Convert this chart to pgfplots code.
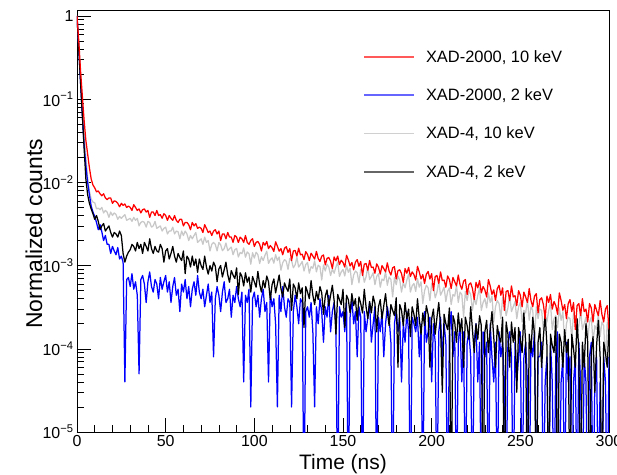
\documentclass[border=0pt]{standalone}
\usepackage{fontspec}
\setmainfont{Liberation Sans}
\usepackage{pgfplots}
\pgfplotsset{compat=1.18}
\definecolor{lgray}{RGB}{200,200,200}
\begin{document}
\begin{tikzpicture}
\begin{axis}[
  scale only axis, width=532bp, height=422bp,
  xmin=0, xmax=300, ymode=log, ymin=1e-5, ymax=1.18,
  axis line style={line width=0.8pt},
  tick align=inside, xtick pos=bottom, ytick pos=left,
  major tick length=14bp, minor tick length=7bp,
  every tick/.style={black, line width=0.6pt},
  xtick={0,50,100,150,200,250,300},
  xticklabels={0,50,100,150,200,250,300},
  minor x tick num=4,
  ytick={1e-5,1e-4,1e-3,1e-2,1e-1,1},
  yticklabels={10\textsuperscript{−5},10\textsuperscript{−4},10\textsuperscript{−3},10\textsuperscript{−2},10\textsuperscript{−1},1},
  ticklabel style={font=\fontsize{16}{19}\selectfont},
  xlabel={Time (ns)}, ylabel={Normalized counts},
  xlabel style={font=\fontsize{21}{25}\selectfont, at={(axis description cs:0.5,-0.052)}, anchor=north, inner sep=0pt},
  ylabel style={font=\fontsize{23}{27}\selectfont, at={(axis description cs:-0.081,0.47)}, anchor=center, inner sep=0pt},
  legend style={at={(axis description cs:0.538,0.91)}, anchor=north west, draw=none, fill=none, font=\fontsize{16.5}{19}\selectfont, row sep=21bp, inner sep=0pt, /tikz/every odd column/.append style={column sep=9bp}},
  legend cell align=left,
  legend image code/.code={\draw[#1] (0bp,0bp) -- (50bp,0bp);},
  every axis plot/.append style={line width=1.25bp, line join=round},
]
\coordinate (ll) at (rel axis cs:0,0);
\coordinate (ur) at (rel axis cs:1,1);
\addlegendimage{color=red!65, line width=1.6bp}
\addlegendentry{XAD-2000, 10 keV}
\addlegendimage{color=blue!60, line width=1.6bp}
\addlegendentry{XAD-2000, 2 keV}
\addlegendimage{color=lgray!85, line width=1.6bp}
\addlegendentry{XAD-4, 10 keV}
\addlegendimage{color=black!60, line width=1.6bp}
\addlegendentry{XAD-4, 2 keV}

% XAD-4, 10 keV
\addplot[color=lgray, forget plot] coordinates {
(0,1) (1,0.45) (2,0.19) (3,0.09) (4,0.04) (5,0.02) (6,0.0115) (7,0.0079) (8,0.0063) (9,0.0058)
(10,5.7e-3) (11,4.8e-3) (12,4.9e-3) (13,4.7e-3) (14,5.0e-3) (15,4.3e-3) (16,4.6e-3) (17,4.4e-3) (18,3.8e-3) (19,4.4e-3)
(20,4.0e-3) (21,4.3e-3) (22,4.1e-3) (23,3.6e-3) (24,3.9e-3) (25,3.7e-3) (26,3.9e-3) (27,4.1e-3) (28,3.5e-3) (29,3.6e-3)
(30,3.7e-3) (31,3.4e-3) (32,3.8e-3) (33,3.5e-3) (34,3.7e-3) (35,3.0e-3) (36,3.3e-3) (37,3.4e-3) (38,3.3e-3) (39,2.9e-3)
(40,3.4e-3) (41,3.3e-3) (42,2.9e-3) (43,3.0e-3) (44,3.4e-3) (45,2.8e-3) (46,2.9e-3) (47,3.0e-3) (48,2.6e-3) (49,2.8e-3)
(50,2.9e-3) (51,2.4e-3) (52,2.6e-3) (53,2.6e-3) (54,2.9e-3) (55,2.4e-3) (56,2.6e-3) (57,2.55e-3) (58,2.1e-3) (59,2.6e-3)
(60,2.3e-3) (61,2.6e-3) (62,2.4e-3) (63,2.0e-3) (64,2.3e-3) (65,2.1e-3) (66,2.3e-3) (67,2.5e-3) (68,1.9e-3) (69,2.0e-3)
(70,2.1e-3) (71,1.8e-3) (72,2.2e-3) (73,1.9e-3) (74,2.0e-3) (75,1.5e-3) (76,1.8e-3) (77,1.9e-3) (78,1.8e-3) (79,1.5e-3)
(80,1.9e-3) (81,1.78e-3) (82,1.51e-3) (83,1.6e-3) (84,1.87e-3) (85,1.51e-3) (86,1.59e-3) (87,1.67e-3) (88,1.35e-3) (89,1.55e-3)
(90,1.61e-3) (91,1.27e-3) (92,1.44e-3) (93,1.39e-3) (94,1.63e-3) (95,1.26e-3) (96,1.46e-3) (97,1.39e-3) (98,1.04e-3) (99,1.43e-3)
(100,1.23e-3) (101,1.45e-3) (102,1.35e-3) (103,1.06e-3) (104,1.28e-3) (105,1.15e-3) (106,1.33e-3) (107,1.49e-3) (108,1.06e-3) (109,1.18e-3)
(110,1.24e-3) (111,1.07e-3) (112,1.35e-3) (113,1.15e-3) (114,1.27e-3) (115,8.8e-4) (116,1.08e-3) (117,1.18e-3) (118,1.13e-3) (119,9.0e-4)
(120,1.22e-3) (121,1.15e-3) (122,9.4e-4) (123,1.02e-3) (124,1.26e-3) (125,9.6e-4) (126,1.03e-3) (127,1.12e-3) (128,8.6e-4) (129,1.03e-3)
(130,1.09e-3) (131,8.1e-4) (132,9.7e-4) (133,9.3e-4) (134,1.14e-3) (135,8.4e-4) (136,1.01e-3) (137,9.7e-4) (138,6.7e-4) (139,1.02e-3)
(140,8.6e-4) (141,1.04e-3) (142,9.6e-4) (143,7.6e-4) (144,9.1e-4) (145,8.1e-4) (146,9.6e-4) (147,1.1e-3) (148,7.4e-4) (149,8.4e-4)
(150,9.0e-4) (151,7.5e-4) (152,1.0e-3) (153,8.3e-4) (154,9.3e-4) (155,5.9e-4) (156,7.7e-4) (157,8.6e-4) (158,8.2e-4) (159,6.2e-4)
(160,9.0e-4) (161,8.5e-4) (162,6.3e-4) (163,7.3e-4) (164,9.7e-4) (165,6.8e-4) (166,7.4e-4) (167,8.2e-4) (168,5.9e-4) (169,7.4e-4)
(170,8.0e-4) (171,5.5e-4) (172,6.9e-4) (173,6.6e-4) (174,8.4e-4) (175,5.8e-4) (176,7.3e-4) (177,6.8e-4) (178,4.2e-4) (179,7.2e-4)
(180,5.9e-4) (181,7.5e-4) (182,6.7e-4) (183,4.8e-4) (184,6.3e-4) (185,5.4e-4) (186,6.7e-4) (187,7.9e-4) (188,4.8e-4) (189,5.7e-4)
(190,6.1e-4) (191,4.9e-4) (192,7.0e-4) (193,5.5e-4) (194,6.4e-4) (195,3.5e-4) (196,5.0e-4) (197,5.8e-4) (198,5.4e-4) (199,3.8e-4)
(200,6.1e-4) (201,5.7e-4) (202,4.1e-4) (203,4.8e-4) (204,6.5e-4) (205,4.4e-4) (206,4.9e-4) (207,5.5e-4) (208,3.7e-4) (209,4.9e-4)
(210,5.4e-4) (211,3.4e-4) (212,4.5e-4) (213,4.3e-4) (214,5.8e-4) (215,3.6e-4) (216,4.8e-4) (217,4.5e-4) (218,2.4e-4) (219,4.9e-4)
(220,3.8e-4) (221,5.0e-4) (222,4.5e-4) (223,2.9e-4) (224,4.1e-4) (225,3.4e-4) (226,4.4e-4) (227,5.4e-4) (228,2.9e-4) (229,3.6e-4)
(230,4.0e-4) (231,3.1e-4) (232,4.7e-4) (233,3.6e-4) (234,4.3e-4) (235,2.1e-4) (236,3.2e-4) (237,3.8e-4) (238,3.5e-4) (239,2.3e-4)
(240,4.1e-4) (241,3.7e-4) (242,2.5e-4) (243,3.1e-4) (244,4.4e-4) (245,2.8e-4) (246,3.2e-4) (247,3.7e-4) (248,2.3e-4) (249,3.2e-4)
(250,3.6e-4) (251,2.1e-4) (252,2.9e-4) (253,2.7e-4) (254,3.9e-4) (255,2.2e-4) (256,3.2e-4) (257,2.9e-4) (258,1.3e-4) (259,3.2e-4)
(260,2.3e-4) (261,3.0e-4) (262,2.9e-4) (263,1.7e-4) (264,2.6e-4) (265,2.1e-4) (266,2.9e-4) (267,3.6e-4) (268,1.7e-4) (269,2.3e-4)
(270,2.5e-4) (271,1.8e-4) (272,3.1e-4) (273,2.2e-4) (274,2.8e-4) (275,1.1e-4) (276,2.0e-4) (277,2.4e-4) (278,2.3e-4) (279,1.3e-4)
(280,2.7e-4) (281,2.4e-4) (282,1.5e-4) (283,1.9e-4) (284,2.9e-4) (285,1.7e-4) (286,2.0e-4) (287,2.4e-4) (288,1.3e-4) (289,2.1e-4)
(290,2.4e-4) (291,1.2e-4) (292,1.9e-4) (293,1.7e-4) (294,2.6e-4) (295,1.4e-4) (296,2.1e-4) (297,1.9e-4) (298,7e-5) (299,2.1e-4) (300,1.5e-4)
};

% XAD-2000, 2 keV
\addplot[color=blue, forget plot] coordinates {
(0,1) (1,0.4) (2,0.16) (3,0.065) (4,0.028) (5,0.016) (6,0.010) (7,0.0071) (8,0.0052) (9,0.0044)
(10,3.9e-3) (11,3.3e-3) (12,2.7e-3) (13,3.1e-3) (14,2.55e-3) (15,2.0e-3) (16,2.3e-3) (17,1.8e-3) (18,1.8e-3) (19,1.4e-3)
(20,1.7e-3) (21,1.5e-3) (22,1.35e-3) (23,1.65e-3) (24,1.2e-3) (25,1.3e-3) (26,1.1e-3) (27,4e-5) (28,6.8e-4) (29,7.2e-4)
(30,5.6e-4) (31,8.0e-4) (32,5.2e-4) (33,6.4e-4) (34,4.4e-4) (35,5e-5) (36,6.8e-4) (37,7.6e-4) (38,6.0e-4) (39,3.6e-4)
(40,6.4e-4) (41,8.4e-4) (42,5.6e-4) (43,4.8e-4) (44,6.8e-4) (45,6.0e-4) (46,4.0e-4) (47,7.2e-4) (48,5.2e-4) (49,6.4e-4)
(50,7.6e-4) (51,4.8e-4) (52,6.4e-4) (53,3.6e-4) (54,5.6e-4) (55,7.2e-4) (56,4.4e-4) (57,5.2e-4) (58,2.8e-4) (59,6.0e-4)
(60,4.8e-4) (61,6.8e-4) (62,4.0e-4) (63,5.6e-4) (64,3.2e-4) (65,5.2e-4) (66,6.4e-4) (67,4.4e-4) (68,7.6e-4) (69,4.8e-4)
(70,4.0e-4) (71,5.2e-4) (72,3.2e-4) (73,4.4e-4) (74,6.0e-4) (75,3.6e-4) (76,4.8e-4) (77,8e-5) (78,4.0e-4) (79,5.6e-4)
(80,4.4e-4) (81,2.8e-4) (82,4.8e-4) (83,6.4e-4) (84,3.6e-4) (85,4.0e-4) (86,5.2e-4) (87,2.4e-4) (88,4.4e-4) (89,3.6e-4)
(90,5.6e-4) (91,4.0e-4) (92,3.2e-4) (93,4.8e-4) (94,4e-5) (95,4.4e-4) (96,3.6e-4) (97,5.2e-4) (98,2e-5) (99,4.0e-4)
(100,4.8e-4) (101,3.2e-4) (102,4.4e-4) (103,2.4e-4) (104,4.0e-4) (105,5.2e-4) (106,2.8e-4) (107,3.6e-4) (108,4e-5) (109,4.8e-4)
(110,3.2e-4) (111,4.0e-4) (112,2.0e-4) (113,2e-5) (114,4.4e-4) (115,2.8e-4) (116,5.6e-4) (117,3.2e-4) (118,2.4e-4) (119,4.0e-4)
(120,3.6e-4) (121,2e-5) (122,2.8e-4) (123,4.4e-4) (124,3.2e-4) (125,2.0e-4) (126,4.0e-4) (127,3.6e-4) (128,1e-6) (129,2.8e-4)
(130,3.2e-4) (131,2.4e-4) (132,3.6e-4) (133,1.6e-4) (134,2e-5) (135,3.2e-4) (136,2.0e-4) (137,4.0e-4) (138,2.8e-4) (139,1.2e-4)
(140,3.2e-4) (141,2.4e-4) (142,4.4e-4) (143,1.6e-4) (144,2.8e-4) (145,3.6e-4) (146,2.0e-4) (147,1e-6) (148,3.2e-4) (149,2.4e-4)
(150,2.8e-4) (151,1.6e-4) (152,3.6e-4) (153,1e-6) (154,2.4e-4) (155,4.0e-4) (156,2.0e-4) (157,2.8e-4) (158,8e-5) (159,3.2e-4)
(160,2.4e-4) (161,1e-6) (162,2.8e-4) (163,1.6e-4) (164,2.4e-4) (165,3.6e-4) (166,1.2e-4) (167,2.0e-4) (168,3.2e-4) (169,1e-6)
(170,2.4e-4) (171,1.6e-4) (172,2.8e-4) (173,8e-5) (174,2.0e-4) (175,3.2e-4) (176,2.4e-4) (177,1.2e-4) (178,1e-6) (179,2.0e-4)
(180,2.8e-4) (181,1.6e-4) (182,2.4e-4) (183,4e-5) (184,2.0e-4) (185,1.2e-4) (186,2.8e-4) (187,1.6e-4) (188,1e-6) (189,2.4e-4)
(190,2.0e-4) (191,1.6e-4) (192,2.4e-4) (193,8e-5) (194,2.0e-4) (195,1e-6) (196,2.8e-4) (197,1.2e-4) (198,1.6e-4) (199,2.4e-4)
(200,4e-5) (201,2.0e-4) (202,1.2e-4) (203,1e-6) (204,1.6e-4) (205,2.4e-4) (206,8e-5) (207,2.0e-4) (208,1.2e-4) (209,1e-6)
(210,1.6e-4) (211,2.8e-4) (212,8e-5) (213,1.6e-4) (214,1e-6) (215,1.2e-4) (216,2.0e-4) (217,4e-5) (218,1.6e-4) (219,1e-6)
(220,1.2e-4) (221,1.6e-4) (222,8e-5) (223,1e-6) (224,1.2e-4) (225,2.0e-4) (226,4e-5) (227,1.2e-4) (228,1e-6) (229,1.6e-4)
(230,8e-5) (231,1.2e-4) (232,1e-6) (233,2.0e-4) (234,8e-5) (235,4e-5) (236,1.2e-4) (237,1e-6) (238,1.6e-4) (239,8e-5)
(240,1.2e-4) (241,4e-5) (242,1e-6) (243,1.2e-4) (244,1.6e-4) (245,8e-5) (246,1e-6) (247,1.2e-4) (248,4e-5) (249,8e-5)
(250,1.6e-4) (251,1e-6) (252,8e-5) (253,1.2e-4) (254,4e-5) (255,1e-6) (256,1.2e-4) (257,8e-5) (258,1.6e-4) (259,1e-6)
(260,8e-5) (261,8e-5) (262,1.2e-4) (263,1e-6) (264,4e-5) (265,8e-5) (266,1e-6) (267,1.2e-4) (268,4e-5) (269,1e-6)
(270,8e-5) (271,1.6e-4) (272,1e-6) (273,4e-5) (274,8e-5) (275,1e-6) (276,1.2e-4) (277,4e-5) (278,8e-5) (279,1e-6)
(280,4e-5) (281,8e-5) (282,1e-6) (283,1.2e-4) (284,4e-5) (285,1e-6) (286,8e-5) (287,4e-5) (288,1e-6) (289,8e-5)
(290,1.2e-4) (291,1e-6) (292,4e-5) (293,8e-5) (294,1e-6) (295,4e-5) (296,1e-6) (297,8e-5) (298,4e-5) (299,1e-6) (300,8e-5)
};

% XAD-4, 2 keV
\addplot[color=black, forget plot] coordinates {
(0,1) (1,0.4) (2,0.16) (3,0.065) (4,0.026) (5,0.011) (6,0.0071) (7,0.0056) (8,0.0048) (9,0.0042)
(10,3.6e-3) (11,4.0e-3) (12,3.4e-3) (13,2.7e-3) (14,3.0e-3) (15,3.2e-3) (16,2.6e-3) (17,2.8e-3) (18,3.0e-3) (19,2.5e-3)
(20,2.2e-3) (21,2.5e-3) (22,2.4e-3) (23,2.2e-3) (24,2.6e-3) (25,2.3e-3) (26,1.4e-3) (27,1.1e-3) (28,1.3e-3) (29,1.45e-3)
(30,1.55e-3) (31,1.8e-3) (32,1.7e-3) (33,1.5e-3) (34,1.9e-3) (35,1.6e-3) (36,1.8e-3) (37,1.4e-3) (38,1.9e-3) (39,1.7e-3)
(40,1.5e-3) (41,2.1e-3) (42,1.6e-3) (43,1.4e-3) (44,1.7e-3) (45,1.5e-3) (46,1.45e-3) (47,1.8e-3) (48,1.6e-3) (49,1.1e-3)
(50,1.5e-3) (51,1.6e-3) (52,1.2e-3) (53,1.4e-3) (54,1.7e-3) (55,1.3e-3) (56,1.1e-3) (57,1.4e-3) (58,1.25e-3) (59,1.15e-3)
(60,1.5e-3) (61,8.0e-4) (62,1.3e-3) (63,1.2e-3) (64,9.6e-4) (65,1.3e-3) (66,1.0e-3) (67,1.2e-3) (68,8.3e-4) (69,1.2e-3)
(70,1.0e-3) (71,9.0e-4) (72,1.3e-3) (73,9.6e-4) (74,7.9e-4) (75,1.0e-3) (76,8.6e-4) (77,1.1e-3) (78,9.8e-4) (79,6.4e-4)
(80,9.1e-4) (81,1.0e-3) (82,7.3e-4) (83,8.9e-4) (84,1.1e-3) (85,7.8e-4) (86,6.3e-4) (87,8.7e-4) (88,7.7e-4) (89,7.0e-4)
(90,9.4e-4) (91,4.5e-4) (92,8.2e-4) (93,7.4e-4) (94,5.7e-4) (95,8.2e-4) (96,6.3e-4) (97,7.3e-4) (98,4.8e-4) (99,7.4e-4)
(100,6.4e-4) (101,5.5e-4) (102,8.5e-4) (103,6.0e-4) (104,4.8e-4) (105,6.6e-4) (106,5.4e-4) (107,7.5e-4) (108,6.4e-4) (109,3.9e-4)
(110,5.9e-4) (111,6.9e-4) (112,4.7e-4) (113,6.0e-4) (114,7.7e-4) (115,5.3e-4) (116,4.2e-4) (117,6.2e-4) (118,5.4e-4) (119,4.9e-4)
(120,6.9e-4) (121,2.9e-4) (122,6.0e-4) (123,5.4e-4) (124,4.0e-4) (125,6.2e-4) (126,4.6e-4) (127,5.4e-4) (128,1.8e-4) (129,5.6e-4)
(130,4.8e-4) (131,4.0e-4) (132,6.6e-4) (133,4.4e-4) (134,3.4e-4) (135,4.9e-4) (136,3.9e-4) (137,5.6e-4) (138,4.7e-4) (139,2.6e-4)
(140,4.3e-4) (141,5.1e-4) (142,3.3e-4) (143,4.4e-4) (144,5.8e-4) (145,3.8e-4) (146,1.5e-4) (147,4.5e-4) (148,3.9e-4) (149,3.4e-4)
(150,5.2e-4) (151,1.8e-4) (152,4.4e-4) (153,3.9e-4) (154,2.7e-4) (155,4.6e-4) (156,3.3e-4) (157,4.0e-4) (158,2.2e-4) (159,4.2e-4)
(160,3.5e-4) (161,2.7e-4) (162,5.2e-4) (163,3.2e-4) (164,2.3e-4) (165,3.7e-4) (166,2.7e-4) (167,4.3e-4) (168,3.5e-4) (169,1.6e-4)
(170,3.2e-4) (171,3.9e-4) (172,2.3e-4) (173,3.3e-4) (174,4.6e-4) (175,2.8e-4) (176,1.9e-4) (177,3.4e-4) (178,2.9e-4) (179,2.5e-4)
(180,4.1e-4) (181,6e-5) (182,3.4e-4) (183,2.9e-4) (184,1.9e-4) (185,3.6e-4) (186,2.3e-4) (187,3.0e-4) (188,1.4e-4) (189,3.2e-4)
(190,2.6e-4) (191,1.9e-4) (192,4.0e-4) (193,2.3e-4) (194,1.5e-4) (195,2.7e-4) (196,1.9e-4) (197,3.3e-4) (198,2.6e-4) (199,6e-5)
(200,2.3e-4) (201,3.0e-4) (202,1.5e-4) (203,2.4e-4) (204,3.6e-4) (205,1.9e-4) (206,3e-5) (207,2.6e-4) (208,2.0e-4) (209,1.7e-4)
(210,3.1e-4) (211,1e-6) (212,2.5e-4) (213,2.1e-4) (214,1.2e-4) (215,2.7e-4) (216,1.6e-4) (217,2.3e-4) (218,6e-5) (219,2.4e-4)
(220,1.9e-4) (221,1.3e-4) (222,3.2e-4) (223,1.7e-4) (224,9e-5) (225,2.0e-4) (226,1.3e-4) (227,2.5e-4) (228,1.9e-4) (229,1e-6)
(230,1.6e-4) (231,2.2e-4) (232,9e-5) (233,1.7e-4) (234,2.8e-4) (235,1.4e-4) (236,6e-5) (237,1.9e-4) (238,1.4e-4) (239,1.2e-4)
(240,2.4e-4) (241,1e-6) (242,2.1e-4) (243,1.5e-4) (244,6e-5) (245,2.1e-4) (246,1.2e-4) (247,1.8e-4) (248,3e-5) (249,1.8e-4)
(250,1.3e-4) (251,9e-5) (252,2.7e-4) (253,1.2e-4) (254,1e-6) (255,1.5e-4) (256,9e-5) (257,2.4e-4) (258,1.5e-4) (259,1e-6)
(260,1.2e-4) (261,1.8e-4) (262,6e-5) (263,1.4e-4) (264,2.6e-4) (265,1.1e-4) (266,1e-6) (267,1.5e-4) (268,1.1e-4) (269,9e-5)
(270,2.4e-4) (271,1e-6) (272,1.5e-4) (273,1.2e-4) (274,6e-5) (275,1.7e-4) (276,9e-5) (277,1.3e-4) (278,1e-6) (279,1.5e-4)
(280,1.0e-4) (281,6e-5) (282,2.3e-4) (283,9e-5) (284,1e-6) (285,1.2e-4) (286,6e-5) (287,2.0e-4) (288,1.2e-4) (289,1e-6)
(290,9e-5) (291,1.4e-4) (292,3e-5) (293,1.1e-4) (294,2.2e-4) (295,8e-5) (296,1e-6) (297,1.2e-4) (298,9e-5) (299,6e-5) (300,1.9e-4)
};

% XAD-2000, 10 keV
\addplot[color=red, forget plot] coordinates {
(0,1) (1,0.5) (2,0.22) (3,0.11) (4,0.056) (5,0.032) (6,0.022) (7,0.015) (8,0.011) (9,0.0093)
(10,8.6e-3) (11,7.7e-3) (12,7.9e-3) (13,7.3e-3) (14,6.9e-3) (15,7.3e-3) (16,6.5e-3) (17,6.2e-3) (18,6.5e-3) (19,6.5e-3)
(20,5.6e-3) (21,6.0e-3) (22,5.9e-3) (23,5.6e-3) (24,5.1e-3) (25,5.6e-3) (26,5.3e-3) (27,5.5e-3) (28,5.0e-3) (29,5.2e-3)
(30,5.0e-3) (31,4.6e-3) (32,5.4e-3) (33,5.0e-3) (34,4.6e-3) (35,4.8e-3) (36,4.3e-3) (37,4.7e-3) (38,4.8e-3) (39,4.4e-3)
(40,4.6e-3) (41,3.8e-3) (42,4.4e-3) (43,4.4e-3) (44,4.0e-3) (45,4.6e-3) (46,4.0e-3) (47,4.1e-3) (48,3.7e-3) (49,4.2e-3)
(50,4.0e-3) (51,3.5e-3) (52,4.0e-3) (53,3.7e-3) (54,3.5e-3) (55,4.0e-3) (56,3.5e-3) (57,3.3e-3) (58,3.6e-3) (59,3.6e-3)
(60,3.0e-3) (61,3.3e-3) (62,3.3e-3) (63,3.1e-3) (64,2.7e-3) (65,3.3e-3) (66,3.0e-3) (67,3.2e-3) (68,2.8e-3) (69,2.9e-3)
(70,2.8e-3) (71,2.5e-3) (72,3.1e-3) (73,2.8e-3) (74,2.5e-3) (75,2.6e-3) (76,2.3e-3) (77,2.6e-3) (78,2.7e-3) (79,2.4e-3)
(80,2.6e-3) (81,2.0e-3) (82,2.4e-3) (83,2.4e-3) (84,2.1e-3) (85,2.5e-3) (86,2.2e-3) (87,2.2e-3) (88,1.9e-3) (89,2.3e-3)
(90,2.2e-3) (91,1.9e-3) (92,2.2e-3) (93,2.1e-3) (94,1.9e-3) (95,2.3e-3) (96,1.9e-3) (97,1.8e-3) (98,2.0e-3) (99,2.1e-3)
(100,1.7e-3) (101,1.9e-3) (102,1.95e-3) (103,1.8e-3) (104,1.5e-3) (105,1.9e-3) (106,1.76e-3) (107,1.95e-3) (108,1.6e-3) (109,1.74e-3)
(110,1.64e-3) (111,1.48e-3) (112,1.93e-3) (113,1.71e-3) (114,1.49e-3) (115,1.6e-3) (116,1.35e-3) (117,1.61e-3) (118,1.69e-3) (119,1.44e-3)
(120,1.6e-3) (121,1.15e-3) (122,1.5e-3) (123,1.52e-3) (124,1.3e-3) (125,1.62e-3) (126,1.35e-3) (127,1.37e-3) (128,1.18e-3) (129,1.47e-3)
(130,1.36e-3) (131,1.15e-3) (132,1.41e-3) (133,1.3e-3) (134,1.2e-3) (135,1.48e-3) (136,1.22e-3) (137,1.12e-3) (138,1.3e-3) (139,1.34e-3)
(140,1.02e-3) (141,1.22e-3) (142,1.25e-3) (143,1.13e-3) (144,9.2e-4) (145,1.27e-3) (146,1.14e-3) (147,1.3e-3) (148,1.03e-3) (149,1.16e-3)
(150,1.09e-3) (151,9.6e-4) (152,1.33e-3) (153,1.17e-3) (154,9.9e-4) (155,1.09e-3) (156,8.9e-4) (157,1.1e-3) (158,1.18e-3) (159,9.8e-4)
(160,1.12e-3) (161,7.6e-4) (162,1.04e-3) (163,1.06e-3) (164,8.8e-4) (165,1.15e-3) (166,9.5e-4) (167,9.6e-4) (168,8.1e-4) (169,1.05e-3)
(170,9.6e-4) (171,7.9e-4) (172,1.0e-3) (173,9.2e-4) (174,8.4e-4) (175,1.08e-3) (176,8.6e-4) (177,7.7e-4) (178,9.4e-4) (179,9.7e-4)
(180,6.9e-4) (181,8.7e-4) (182,8.9e-4) (183,8.0e-4) (184,6.3e-4) (185,9.2e-4) (186,8.1e-4) (187,9.5e-4) (188,7.4e-4) (189,8.4e-4)
(190,7.8e-4) (191,6.7e-4) (192,9.8e-4) (193,8.4e-4) (194,6.9e-4) (195,7.8e-4) (196,6.1e-4) (197,7.9e-4) (198,8.5e-4) (199,6.9e-4)
(200,8.0e-4) (201,5.0e-4) (202,7.4e-4) (203,7.6e-4) (204,6.1e-4) (205,8.4e-4) (206,6.6e-4) (207,6.7e-4) (208,5.5e-4) (209,7.5e-4)
(210,6.8e-4) (211,5.3e-4) (212,7.2e-4) (213,6.4e-4) (214,5.7e-4) (215,7.7e-4) (216,5.9e-4) (217,5.2e-4) (218,6.5e-4) (219,6.8e-4)
(220,4.5e-4) (221,5.9e-4) (222,6.2e-4) (223,5.3e-4) (224,3.9e-4) (225,6.3e-4) (226,5.4e-4) (227,6.6e-4) (228,4.7e-4) (229,5.6e-4)
(230,5.1e-4) (231,4.2e-4) (232,6.8e-4) (233,5.7e-4) (234,4.5e-4) (235,5.1e-4) (236,3.8e-4) (237,5.3e-4) (238,5.8e-4) (239,4.4e-4)
(240,5.4e-4) (241,2.9e-4) (242,4.9e-4) (243,5.0e-4) (244,3.8e-4) (245,5.7e-4) (246,4.2e-4) (247,4.35e-4) (248,3.3e-4) (249,5.0e-4)
(250,4.4e-4) (251,3.2e-4) (252,4.8e-4) (253,4.2e-4) (254,3.6e-4) (255,5.3e-4) (256,3.8e-4) (257,3.2e-4) (258,4.3e-4) (259,4.6e-4)
(260,2.7e-4) (261,3.9e-4) (262,4.1e-4) (263,3.4e-4) (264,2.3e-4) (265,4.3e-4) (266,3.6e-4) (267,4.5e-4) (268,3.0e-4) (269,3.7e-4)
(270,3.3e-4) (271,2.6e-4) (272,4.7e-4) (273,3.8e-4) (274,2.9e-4) (275,3.4e-4) (276,2.3e-4) (277,3.5e-4) (278,3.9e-4) (279,2.8e-4)
(280,3.6e-4) (281,1.7e-4) (282,3.3e-4) (283,3.5e-4) (284,2.5e-4) (285,4.0e-4) (286,2.8e-4) (287,3.0e-4) (288,2.1e-4) (289,3.5e-4)
(290,3.1e-4) (291,2.1e-4) (292,3.4e-4) (293,2.9e-4) (294,2.5e-4) (295,3.8e-4) (296,2.6e-4) (297,2.1e-4) (298,3.0e-4) (299,3.3e-4) (300,1.7e-4)
};
\end{axis}
\pgfresetboundingbox
\useasboundingbox ([shift={(-77bp,-43bp)}]ll) rectangle ([shift={(8bp,10bp)}]ur);
\end{tikzpicture}
\end{document}
